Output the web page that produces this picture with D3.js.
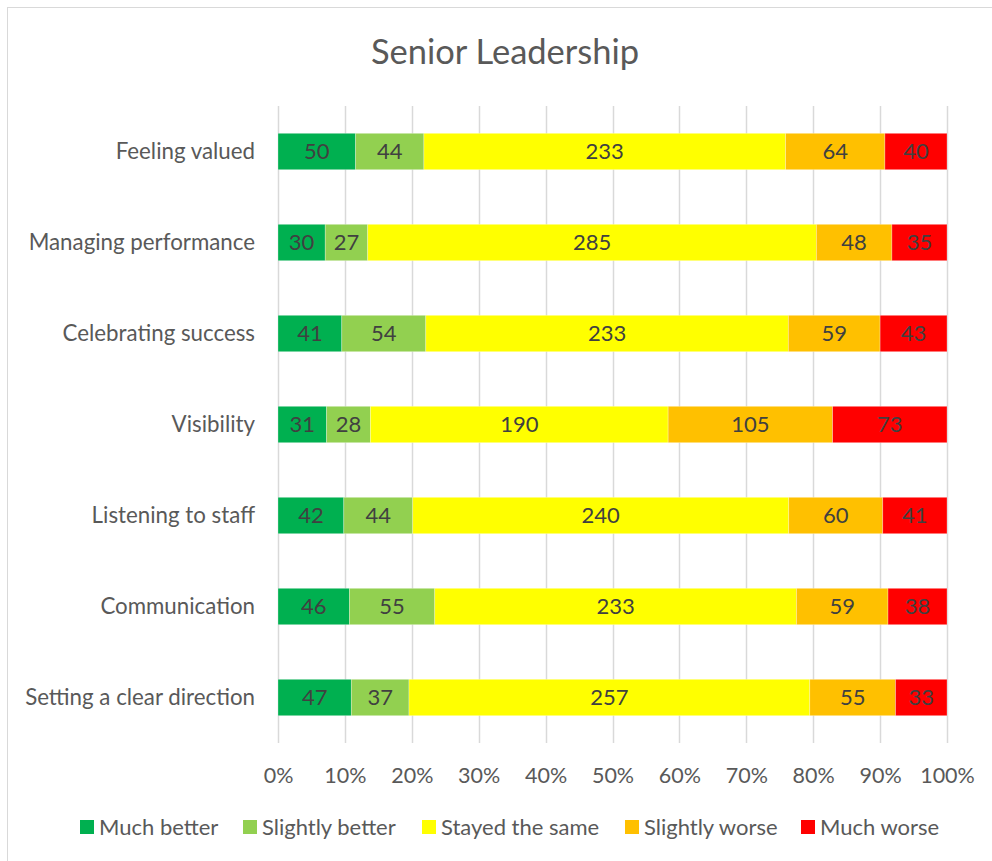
<!DOCTYPE html>
<html><head><meta charset="utf-8">
<script src="https://cdn.jsdelivr.net/npm/d3@7/dist/d3.min.js"></script>
<style>body{margin:0;background:#fff;} svg{display:block;font-family:Lato,"Open Sans",sans-serif;}</style>
</head><body><svg id="c" width="992" height="861"></svg>
<script>
const title = "Senior Leadership";
const categories = ["Feeling valued","Managing performance","Celebrating success","Visibility","Listening to staff","Communication","Setting a clear direction"];
const seriesNames = ["Much better","Slightly better","Stayed the same","Slightly worse","Much worse"];
const seriesColors = ["#00B050","#92D050","#FFFF00","#FFC000","#FF0000"];
const muchBetter     = [50,30,41,31,42,46,47];
const slightlyBetter = [44,27,54,28,44,55,37];
const stayedSame     = [233,285,233,190,240,233,257];
const slightlyWorse  = [64,48,59,105,60,59,55];
const muchWorse      = [40,35,43,73,41,38,33];
const tickValues = [0,0.1,0.2,0.3,0.4,0.5,0.6,0.7,0.8,0.9,1];

const seriesData = [muchBetter, slightlyBetter, stayedSame, slightlyWorse, muchWorse];
const rows = categories.map((c,i)=>{const o={cat:c}; seriesNames.forEach((s,j)=>o[s]=seriesData[j][i]); return o;});
const stack = d3.stack().keys(seriesNames).offset(d3.stackOffsetExpand);
const layers = stack(rows);

const svg = d3.select("#c");
svg.append("rect").attr("x",7.5).attr("y",7.5).attr("width",1100).attr("height",1000)
  .attr("fill","none").attr("stroke","#D9D9D9").attr("stroke-width",1);

svg.append("text").attr("x",505).attr("y",52).attr("dy","0.36em").attr("text-anchor","middle")
  .attr("font-size",34.5).attr("fill","#595959").text(title);

const x = d3.scaleLinear().domain([0,1]).range([278,947]);
const y = d3.scaleBand().domain(categories).range([106,743]).paddingInner(0.6).paddingOuter(0.3);

svg.append("g").selectAll("line").data(tickValues).join("line")
  .attr("x1",d=>Math.round(x(d))+0.5).attr("x2",d=>Math.round(x(d))+0.5)
  .attr("y1",106).attr("y2",743).attr("stroke","#D9D9D9").attr("stroke-width",1.5);

const xAxis = d3.axisBottom(x).tickValues(tickValues).tickFormat(d3.format(".0%")).tickSize(0).tickPadding(0);
const gx = svg.append("g").attr("transform","translate(0,0)").call(xAxis);
gx.select(".domain").remove();
gx.selectAll("text").attr("y",775).attr("dy","0.36em").attr("font-size",21.5).attr("fill","#595959").attr("font-family","Lato,'Open Sans',sans-serif");

const yAxis = d3.axisLeft(y).tickSize(0).tickPadding(23);
const gy = svg.append("g").attr("transform","translate(278,0)").call(yAxis);
gy.select(".domain").remove();
gy.selectAll("text").attr("font-size",22.3).attr("fill","#595959").attr("font-family","Lato,'Open Sans',sans-serif");

const g = svg.append("g");
layers.forEach((layer,j)=>{
  const lg = g.append("g");
  lg.selectAll("rect").data(layer).join("rect")
    .attr("x",d=>x(d[0])).attr("width",d=>x(d[1])-x(d[0]))
    .attr("y",d=>y(d.data.cat)).attr("height",y.bandwidth())
    .attr("fill",seriesColors[j]).attr("stroke","#fff").attr("stroke-opacity",0.4).attr("stroke-width",0.7);
  lg.selectAll("text").data(layer).join("text")
    .attr("x",d=>(x(d[0])+x(d[1]))/2).attr("y",d=>y(d.data.cat)+y.bandwidth()/2)
    .attr("dy","0.36em").attr("text-anchor","middle").attr("font-size",22).attr("fill","#404040")
    .text(d=>d.data[seriesNames[j]]);
});

const legendX = [80,243,422,625,801];
const lgd = svg.append("g");
seriesNames.forEach((s,j)=>{
  lgd.append("rect").attr("x",legendX[j]).attr("y",820).attr("width",14).attr("height",14).attr("fill",seriesColors[j]);
  lgd.append("text").attr("x",legendX[j]+19).attr("y",827).attr("dy","0.36em")
    .attr("font-size",22).attr("fill","#595959").text(s);
});
</script></body></html>
